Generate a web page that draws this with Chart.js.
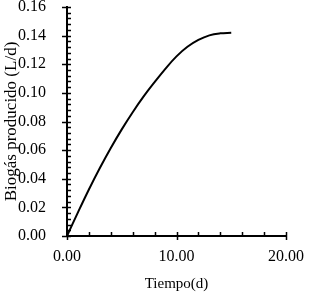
<!DOCTYPE html>
<html>
<head>
<meta charset="utf-8">
<script src="https://cdn.jsdelivr.net/npm/chart.js@4"></script>
<style>
html,body{margin:0;padding:0;background:#fff;}
#c{display:block;}
</style>
</head>
<body>
<canvas id="c" width="309" height="293"></canvas>
<script>
const tiempo = [0, 1, 2, 3, 4, 5, 6, 7, 8, 9, 10, 11, 12, 13, 14, 15];
const biogas = [0, 0.0165, 0.0325, 0.0475, 0.0615, 0.0745, 0.0865, 0.0975, 0.1075, 0.1170, 0.1255, 0.1322, 0.1370, 0.1402, 0.1416, 0.1420];
const xTitle = 'Tiempo(d)';
const yTitle = 'Biogás producido (L/d)';
const FONT = '"Liberation Serif", "Times New Roman", serif';

const points = tiempo.map((t, i) => ({x: t, y: biogas[i]}));

const tickPlugin = {
  id: 'ticks2',
  afterDraw(chart) {
    const ctx = chart.ctx;
    const xs = chart.scales.x, ys = chart.scales.y;
    const area = chart.chartArea;
    ctx.save();
    ctx.strokeStyle = '#000';
    ctx.lineWidth = 1.5;
    ctx.beginPath();
    for (let v = 0; v <= 20.0001; v += 2) {
      const px = Math.round(xs.getPixelForValue(v)) + 0.5;
      const major = Math.abs(v % 10) < 1e-6;
      ctx.moveTo(px, area.bottom + (major ? 4 : 0));
      ctx.lineTo(px, area.bottom - 4);
    }
    for (let k = 0; k <= 40; k++) {
      const v = k * 0.004;
      const py = Math.round(ys.getPixelForValue(v)) + 0.5;
      const major = k % 5 === 0;
      ctx.moveTo(area.left - (major ? 5 : 0), py);
      ctx.lineTo(area.left + 4, py);
    }
    ctx.stroke();
    ctx.restore();
  }
};

new Chart(document.getElementById('c'), {
  type: 'line',
  data: {
    datasets: [{
      data: points,
      borderColor: '#000',
      borderWidth: 2,
      pointRadius: 0,
      fill: false,
      tension: 0.4
    }]
  },
  options: {
    responsive: false,
    animation: false,
    devicePixelRatio: 1,
    layout: {padding: {left: 0, top: 7, right: 23, bottom: 0}},
    plugins: {legend: {display: false}, tooltip: {enabled: false}},
    scales: {
      x: {
        type: 'linear',
        min: 0, max: 20,
        grid: {display: false},
        border: {display: true, color: '#000', width: 2},
        ticks: {
          stepSize: 10,
          color: '#000',
          padding: 3,
          maxRotation: 0,
          font: {family: FONT, size: 16},
          callback: v => Number(v).toFixed(2)
        },
        title: {display: true, text: xTitle, color: '#000', font: {family: FONT, size: 15}, padding: {top: 4, bottom: 0}},
        afterFit(s) { s.height = 57; s.paddingLeft = 0; s.paddingRight = 0; }
      },
      y: {
        min: 0, max: 0.16,
        grid: {display: false},
        border: {display: true, color: '#000', width: 2},
        ticks: {
          stepSize: 0.02,
          color: '#000',
          padding: 13,
          font: {family: FONT, size: 16},
          callback: v => Number(v).toFixed(2)
        },
        title: {display: true, text: yTitle, color: '#000', font: {family: FONT, size: 17}, padding: {top: 1, bottom: 0}},
        afterFit(s) { s.width = 67; s.paddingTop = 0; s.paddingBottom = 0; }
      }
    }
  },
  plugins: [tickPlugin]
});
</script>
</body>
</html>
